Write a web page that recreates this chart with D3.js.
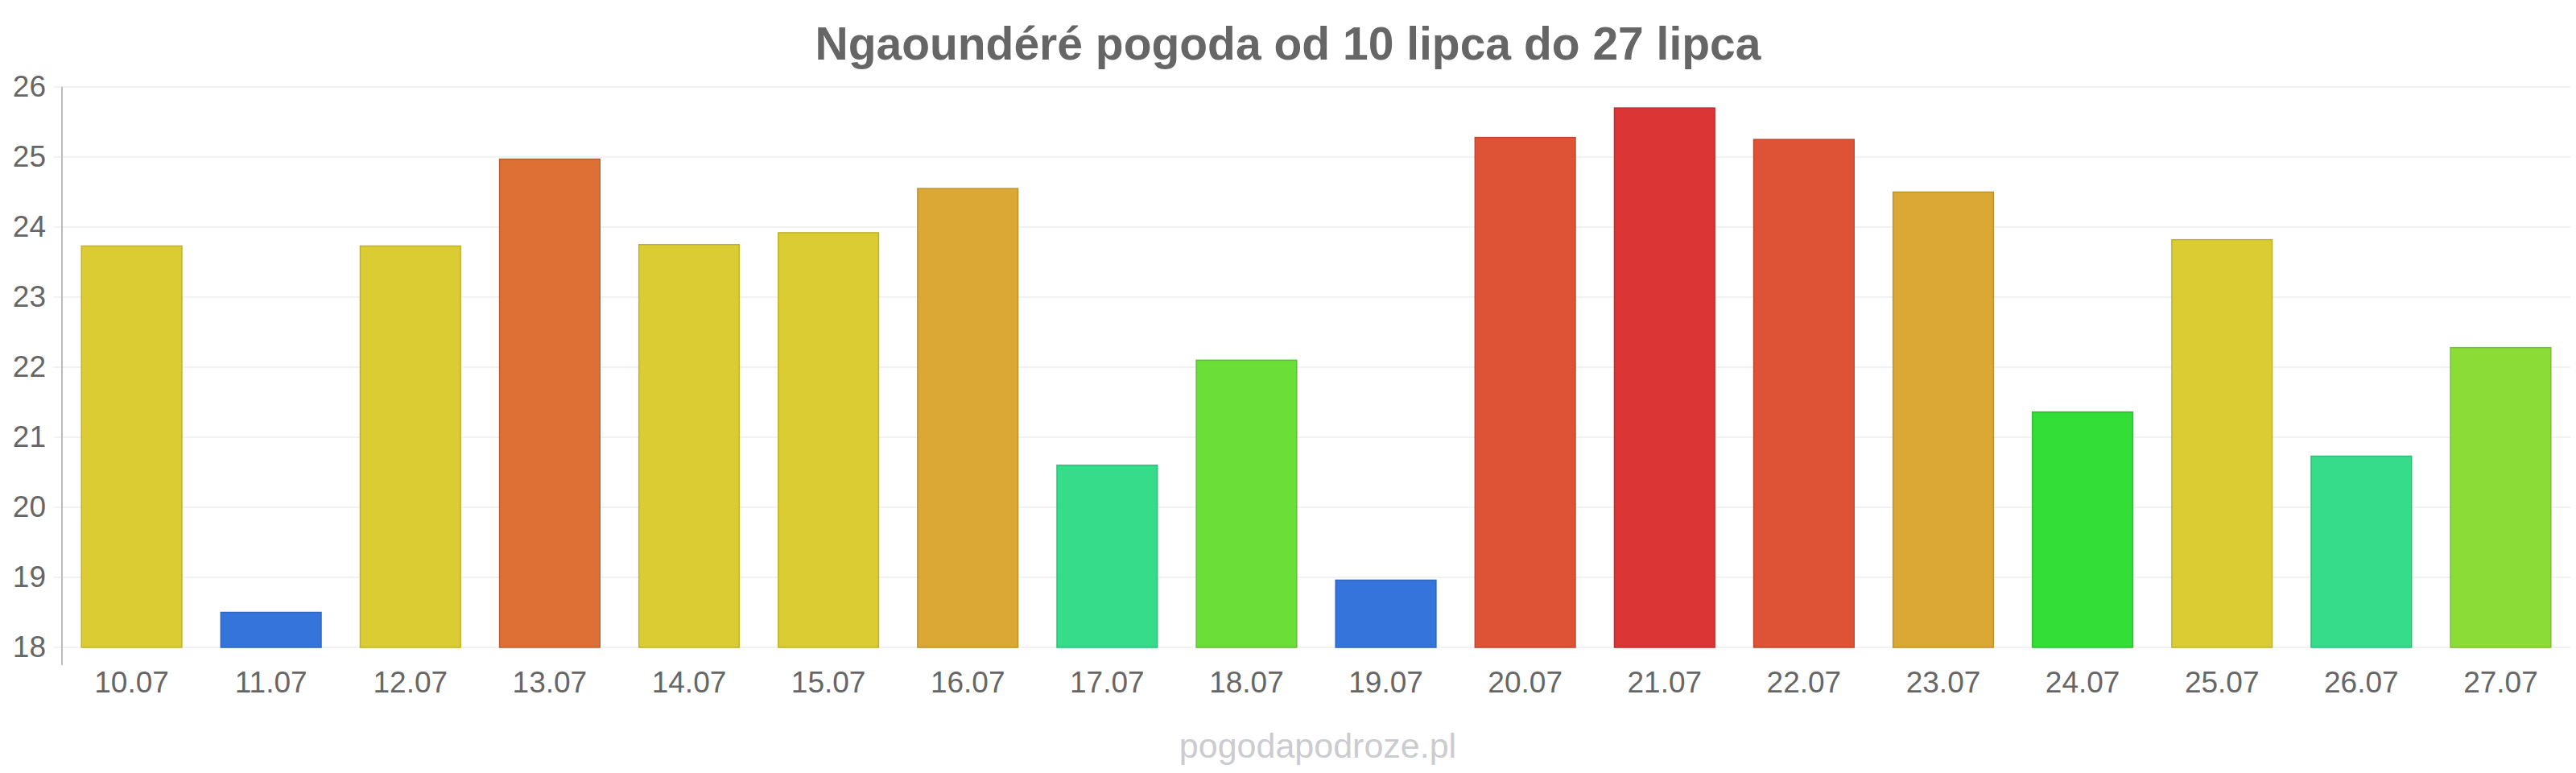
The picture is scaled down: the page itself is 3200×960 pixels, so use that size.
<!DOCTYPE html>
<html>
<head>
<meta charset="utf-8">
<script src="https://cdn.jsdelivr.net/npm/d3@7"></script>
<style>
  body { margin: 0; background: #fff; }
  text { font-family: "Liberation Sans", Arial, sans-serif; }
</style>
</head>
<body>
<script>
// data
const days = ["10.07","11.07","12.07","13.07","14.07","15.07","16.07","17.07","18.07",
              "19.07","20.07","21.07","22.07","23.07","24.07","25.07","26.07","27.07"];
const temps = [23.73, 18.5, 23.73, 24.97, 23.75, 23.92, 24.55, 20.6, 22.1,
               18.96, 25.28, 25.7, 25.25, 24.5, 21.36, 23.82, 20.73, 22.28];
const yTicks = [18, 19, 20, 21, 22, 23, 24, 25, 26];
const tempSteps = [19, 21, 22, 22.2, 23, 24, 24.9, 25.2, 25.5];
const tempColors = ["#3575db","#36dc8a","#33de36","#6cde38","#8cdc37",
                    "#dccc34","#dca835","#de6f35","#de5335","#db3535"];

let width = 3200, height = 960;
let mLeft = 77, mRight = 3193, mTop = 108, mBottom = 804;

let svg = d3.select("body").append("svg")
            .attr("width", width)
            .attr("height", height);

let x = d3.scaleBand().domain(days).range([mLeft, mRight])
          .paddingInner(0.28).paddingOuter(0.14);
let y = d3.scaleLinear().domain([18, 26]).range([mBottom, mTop]);
let color = d3.scaleThreshold().domain(tempSteps).range(tempColors);

// grid
svg.append("g").selectAll("line").data(yTicks).enter().append("line")
   .attr("x1", mLeft - 10).attr("x2", mRight)
   .attr("y1", d => y(d)).attr("y2", d => y(d))
   .attr("stroke", "#f2f2f2").attr("stroke-width", 2);

// bars
svg.append("g").selectAll("rect").data(temps).enter().append("rect")
   .attr("x", (d, i) => x(days[i]))
   .attr("width", x.bandwidth())
   .attr("y", d => y(d))
   .attr("height", d => y(18) - y(d))
   .attr("fill", d => color(d))
   .attr("stroke", d => d3.color(color(d)).darker(0.4))
   .attr("stroke-width", 1.5);

// y axis
let yAxis = svg.append("g").attr("transform", "translate(" + mLeft + ",0)")
   .call(d3.axisLeft(y).tickValues(yTicks).tickSize(0).tickPadding(20));
yAxis.select(".domain").remove();
yAxis.selectAll("text").attr("font-size", 37).attr("fill", "#666")
     .attr("font-family", "Liberation Sans, Arial, sans-serif");
svg.append("line").attr("x1", mLeft).attr("x2", mLeft)
   .attr("y1", mTop).attr("y2", mBottom + 22)
   .attr("stroke", "#bbb").attr("stroke-width", 2);

// x axis labels
let xAxis = svg.append("g").attr("transform", "translate(0," + mBottom + ")")
   .call(d3.axisBottom(x).tickSize(0).tickPadding(30));
xAxis.select(".domain").remove();
xAxis.selectAll("text").attr("font-size", 37).attr("fill", "#666")
     .attr("font-family", "Liberation Sans, Arial, sans-serif");

// title
svg.append("text").attr("x", 1600).attr("y", 74)
   .attr("text-anchor", "middle")
   .attr("font-size", 57).attr("font-weight", "bold").attr("fill", "#666")
   .text("Ngaoundéré pogoda od 10 lipca do 27 lipca");

// watermark
svg.append("text").attr("x", 1637).attr("y", 941)
   .attr("text-anchor", "middle")
   .attr("font-size", 43).attr("fill", "#cbcbd0")
   .text("pogodapodroze.pl");
</script>
</body>
</html>
